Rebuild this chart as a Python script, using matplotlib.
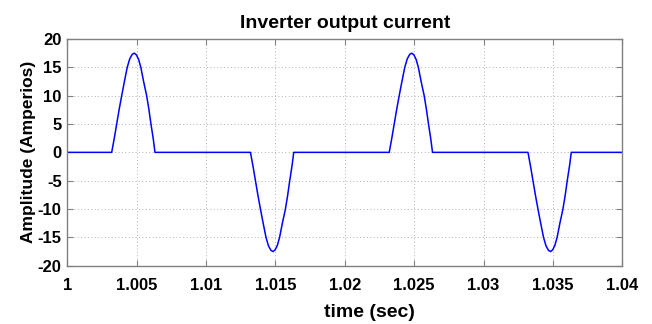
import numpy as np
import matplotlib.pyplot as plt

# one current pulse: time since pulse onset (s), amplitude (A)
pulse_dt = [0.0, 0.00018, 0.00036, 0.00054, 0.00072, 0.00090, 0.00112, 0.00130,
            0.00148, 0.00163, 0.00178, 0.00194, 0.00210, 0.00230, 0.00252,
            0.00268, 0.00283, 0.00300, 0.00312]
pulse_amp = [0.0, 2.4, 5.0, 7.6, 10.0, 12.3, 15.0, 16.5, 17.3, 17.5, 17.2, 16.4,
             15.0, 12.5, 10.0, 7.6, 5.0, 2.3, 0.0]

# onset time and polarity of each pulse
pulse_start = [1.0032, 1.0132, 1.0232, 1.0332]
pulse_sign = [1, -1, 1, -1]

t_start, t_end = 1.0, 1.04

t = [t_start]
i = [0.0]
for t0, s in zip(pulse_start, pulse_sign):
    t += [t0 + d for d in pulse_dt]
    i += [s * a for a in pulse_amp]
t.append(t_end)
i.append(0.0)

plt.rcParams["font.family"] = ["Liberation Sans", "DejaVu Sans"]
plt.rcParams["font.weight"] = "bold"
plt.rcParams["axes.unicode_minus"] = False

fig = plt.figure(figsize=(6.52, 3.24), dpi=100)
ax = fig.add_axes([0.1032, 0.1799, 0.8513, 0.6997])

ax.plot(t, i, color="#0000ff", linewidth=1.1)

ax.set_xlim(t_start, t_end)
ax.set_ylim(-20, 20)
ax.set_xticks(np.arange(1.0, 1.0401, 0.005))
ax.set_xticklabels(["1", "1.005", "1.01", "1.015", "1.02", "1.025", "1.03", "1.035", "1.04"])
ax.set_yticks(np.arange(-20, 21, 5))

ax.grid(True, linestyle=(0, (1, 2.5)), color="#b0b0b0", linewidth=0.7)
for sp in ax.spines.values():
    sp.set_color("#808080")
    sp.set_linewidth(1.0)
ax.tick_params(direction="in", length=4, color="#808080", top=True, right=True,
               labelsize=12)
ax.tick_params(axis="x", pad=9)
ax.tick_params(axis="y", pad=4)

ax.set_title("Inverter output current", fontsize=14, fontweight="bold", pad=8)
ax.set_xlabel("time (sec)", fontsize=14, fontweight="bold")
ax.xaxis.set_label_coords(0.545, -0.17)
ax.set_ylabel("Amplitude (Amperios)", fontsize=12.5, fontweight="bold", labelpad=1)

fig.savefig("out.png", dpi=100)
